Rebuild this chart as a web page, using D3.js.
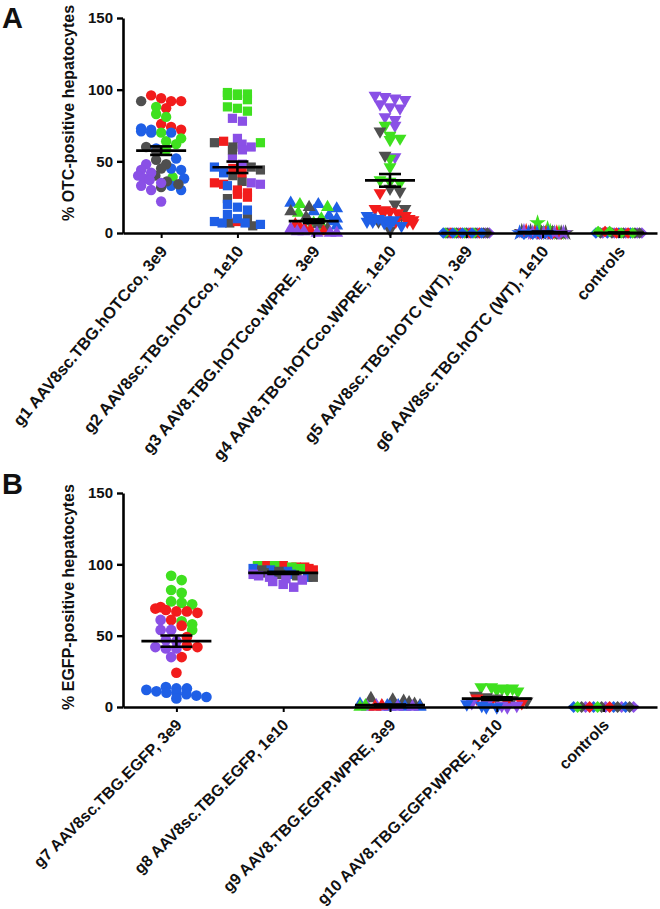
<!DOCTYPE html>
<html><head><meta charset="utf-8">
<script src="https://cdn.jsdelivr.net/npm/d3@7"></script>
<style>
body{margin:0;background:#fff;}
text{font-family:"Liberation Sans",Arial,sans-serif;font-weight:bold;fill:#111;}
</style></head>
<body><svg id="c" width="660" height="909"></svg>
<script>
// ---------- DATA ----------
const colors = {red:"#f21c1c", green:"#3fe01f", blue:"#1f5fe6", purple:"#8a50e6", grey:"#4f4f4f"};
const yTicks = [0, 50, 100, 150];

const categoriesA = ["g1 AAV8sc.TBG.hOTCco, 3e9","g2 AAV8sc.TBG.hOTCco, 1e10","g3 AAV8.TBG.hOTCco.WPRE, 3e9","g4 AAV8.TBG.hOTCco.WPRE, 1e10","g5 AAV8sc.TBG.hOTC (WT), 3e9","g6 AAV8sc.TBG.hOTC (WT), 1e10","controls"];
const categoriesB = ["g7 AAV8sc.TBG.EGFP, 3e9","g8 AAV8sc.TBG.EGFP, 1e10","g9 AAV8.TBG.EGFP.WPRE, 3e9","g10 AAV8.TBG.EGFP.WPRE, 1e10","controls"];

const g1 = {red:[96,94,92,92,87,76,74,72], green:[88,83,81,70,66,64,62,58,39], blue:[73,72,71,70,70,59,52,45,44,38,33,30], grey:[92,60,57,51,48,45,40,36,34,32], purple:[48,44,42,40,38,37,35,33,30,22]};
const g2 = {green:[98,97,97,96,96,93,88,87,85,63], purple:[80,78,66,62,60,58,52,48,35,34], grey:[63,60,58,46,44,40,36,24,10,7,5], red:[64,45,42,35,34,30,28,27,25,8], blue:[46,42,33,20,18,16,13,10,8,7,7,6]};
const g3 = {blue:[21,20,17,15,12,10,8,5], green:[20,18,14,10,7,4], grey:[18,15,11,8,6,3], red:[6,4,3,2,1], purple:[3,2,1,1,0,0,0]};
const g4 = {purple:[96,95,94,93,90,88,87,81,79,75,53], green:[75,68,66,65,52,46,37,36,35], grey:[71,54,31,29,20,17,12,8,2], red:[28,17,16,15,15,14,12,10,9,8,8,7], blue:[12,11,10,10,9,9,8,8,7,6,5]};
const g5 = {purple:[0,0,0,0,0,0], grey:[0,0,0,0,0,0], red:[0,0,0,0], green:[0,0,0,0], blue:[0,0,0,0,0]};
const g6 = {green:[7,3,2,1,0], grey:[1,1,0,0,0,0], red:[1,0,0,0], purple:[1,0,0,0,0], blue:[0,0,0,0]};
const ctlA = {purple:[0,0,0,0,0], blue:[0,0,0,0], grey:[0,0,0,0,0], red:[1,0,0], green:[1,1,0,0]};

const g7 = {green:[92,89,82,80,74,73,72,60,58,54], red:[70,69,68,67,67,66,61,57,49,43,42,35,24], purple:[61,54,54,47,46,42,41,41,35], blue:[14,13,13,12,11,10,10,9,8,7,6]};
const g8 = {red:[99,99,98,98,97,96], green:[99,99,98,97], blue:[97,96,95,94,93,91], grey:[96,95,94,93,92,91], purple:[93,92,91,90,89,88,86,84]};
const g9 = {grey:[6,5,4,3,2,1], blue:[2,1,1,0,0,0], purple:[1,0,0,0,0], green:[1,0], red:[1,0]};
const g10 = {green:[14,14,13,13,12,12,11], grey:[8,7,6,5,4], red:[6,5,4,3], purple:[3,2,1,1,0], blue:[2,1,0,0]};
const ctlB = {purple:[0,0,0,0], blue:[0,0,0,0], grey:[0,0,0,0], red:[0,0], green:[0,0]};

const seriesA = [g1,g2,g3,g4,g5,g6,ctlA];
const seriesB = [g7,g8,g9,g10,ctlB];

// ---------- DRAW ----------
const svg = d3.select("#c");
const symA = [d3.symbolCircle, d3.symbolSquare, d3.symbolTriangle, "down", d3.symbolDiamond2, d3.symbolStar, d3.symbolDiamond2];
const symB = [d3.symbolCircle, d3.symbolSquare, d3.symbolTriangle, "down", d3.symbolDiamond2];

function panel(cfg){
  const g = svg.append("g");
  const y = d3.scaleLinear().domain([0,150]).range([cfg.y0, cfg.y1]);
  const x = d3.scalePoint().domain(cfg.cats).range([123, 657]).padding(0.5);

  cfg.series.forEach((grp, gi) => {
    const pts = [];
    Object.keys(grp).forEach(col => grp[col].forEach((v,k) => pts.push({v, col, k})));
    const bins = d3.group(pts, d => Math.round(y(d.v) / cfg.binH));
    const cx = x(cfg.cats[gi]);
    bins.forEach(arr => {
      arr.sort((a,b) => d3.ascending(a.k, b.k) || d3.ascending(a.col, b.col));
      const n = arr.length;
      const sp = n > 1 ? Math.min(cfg.markW, 2*cfg.maxHalf/(n-1)) : 0;
      arr.forEach((p,i) => { p.x = cx + (i - (n-1)/2) * sp; });
    });
    const st = cfg.syms[gi];
    const sym = st === "down" ? d3.symbol(d3.symbolTriangle, cfg.size*0.85) : d3.symbol(st, st === d3.symbolTriangle ? cfg.size*0.85 : cfg.size);
    g.append("g").selectAll("path").data(pts).join("path")
      .attr("d", sym)
      .attr("transform", d => `translate(${d.x},${y(d.v)})` + (st === "down" ? " rotate(180)" : ""))
      .attr("fill", d => colors[d.col]);
    const vals = pts.map(p => p.v);
    const m = d3.mean(vals);
    const sem = (d3.deviation(vals) || 0) / Math.sqrt(vals.length);
    const bar = g.append("g").attr("stroke", "#000").attr("stroke-width", 2.6).attr("fill", "none");
    bar.append("line").attr("x1", cx - cfg.meanHalf).attr("x2", cx + cfg.meanHalf).attr("y1", y(m)).attr("y2", y(m));
    if (sem > 0) {
      bar.append("line").attr("x1", cx).attr("x2", cx).attr("y1", y(m+sem)).attr("y2", y(m-sem));
      [m+sem, m-sem].forEach(v => bar.append("line").attr("x1", cx - cfg.capHalf).attr("x2", cx + cfg.capHalf).attr("y1", y(v)).attr("y2", y(v)));
    }
  });

  const ya = g.append("g").attr("transform", "translate(123,0)")
    .call(d3.axisLeft(y).tickValues(yTicks).tickSize(6).tickSizeOuter(0).tickPadding(4));
  ya.select(".domain").attr("stroke-width", 2.6).attr("stroke", "#000");
  ya.selectAll(".tick line").attr("stroke-width", 2.4).attr("stroke", "#000");
  ya.selectAll("text").style("font-size", "15px").attr("fill", "#111");

  const xa = g.append("g").attr("transform", `translate(0,${cfg.y0})`)
    .call(d3.axisBottom(x).tickSize(5).tickSizeOuter(0));
  xa.select(".domain").attr("stroke-width", 2.6).attr("stroke", "#000");
  xa.selectAll(".tick line").attr("stroke-width", 2).attr("stroke", "#000");
  xa.selectAll("text").style("font-size", cfg.xFont).attr("fill", "#111")
    .attr("text-anchor", "end").attr("dy", "0.35em")
    .attr("transform", `translate(2,15) rotate(${cfg.xAngle})`).attr("y", 0).attr("x", 0);

  g.append("text").attr("transform", `translate(${cfg.titleX},${cfg.titleY}) rotate(-90)`)
    .attr("text-anchor", "middle").style("font-size", "16px").text(cfg.title);
  g.append("text").attr("x", 2).attr("y", cfg.letterY).style("font-size", "29px").text(cfg.letter);
}

panel({y0:233, y1:18, cats:categoriesA, series:seriesA, syms:symA, binH:9, markW:10, maxHalf:23, size:85, meanHalf:25, capHalf:11,
  xFont:"16.5px", xAngle:-50,
  title:"% OTC-positive hepatocytes", titleX:74, titleY:113, letter:"A", letterY:28});
panel({y0:707, y1:493, cats:categoriesB, series:seriesB, syms:symB, binH:9, markW:10.5, maxHalf:30, size:90, meanHalf:35, capHalf:16,
  xFont:"16px", xAngle:-45,
  title:"% EGFP-positive hepatocytes", titleX:74, titleY:597, letter:"B", letterY:494});
</script></body></html>
